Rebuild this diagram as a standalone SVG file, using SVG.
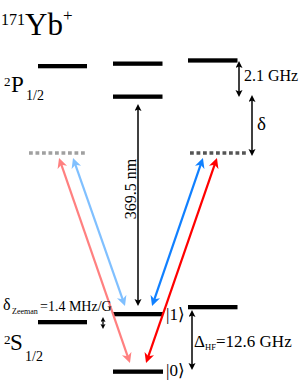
<svg xmlns="http://www.w3.org/2000/svg" width="299" height="380" viewBox="0 0 299 380">
<defs>
<style>
.lvl{fill:#000}
text{font-family:'Liberation Serif','Times New Roman','DejaVu Serif',serif;fill:#000}
.blk{stroke:#000;stroke-width:1.5;fill:none;marker-start:url(#mb);marker-end:url(#mb)}
.col{stroke-width:2.2;fill:none}
.dash{stroke-width:3.6;stroke-dasharray:3.8 2.7;fill:none}
</style>
<marker id="mb" markerUnits="userSpaceOnUse" markerWidth="8" markerHeight="8" refX="3" refY="3.5" orient="auto-start-reverse" viewBox="0 0 8 8">
<path d="M0,0 L7,3.5 L0,7 L1.5,3.5 z" fill="#000"/>
</marker>
<marker id="ms" markerUnits="userSpaceOnUse" markerWidth="6" markerHeight="6" refX="2" refY="2.5" orient="auto-start-reverse" viewBox="0 0 6 6">
<path d="M0,0 L5,2.5 L0,5 L1,2.5 z" fill="#000"/>
</marker>
<marker id="mpink" markerUnits="userSpaceOnUse" markerWidth="12" markerHeight="12" refX="4" refY="5" orient="auto-start-reverse" viewBox="0 0 12 12">
<path d="M0,0 L10,5 L0,10 L3,5 z" fill="#ff8080"/>
</marker>
<marker id="mlblue" markerUnits="userSpaceOnUse" markerWidth="12" markerHeight="12" refX="4" refY="5" orient="auto-start-reverse" viewBox="0 0 12 12">
<path d="M0,0 L10,5 L0,10 L3,5 z" fill="#80c0ff"/>
</marker>
<marker id="mblue" markerUnits="userSpaceOnUse" markerWidth="12" markerHeight="12" refX="4" refY="5" orient="auto-start-reverse" viewBox="0 0 12 12">
<path d="M0,0 L10,5 L0,10 L3,5 z" fill="#1080ff"/>
</marker>
<marker id="mred" markerUnits="userSpaceOnUse" markerWidth="12" markerHeight="12" refX="4" refY="5" orient="auto-start-reverse" viewBox="0 0 12 12">
<path d="M0,0 L10,5 L0,10 L3,5 z" fill="#ff0000"/>
</marker>
</defs>
<rect width="299" height="380" fill="#fff"/>

<g id="title">
<text x="1" y="35"><tspan font-size="16" dy="-10">171</tspan><tspan font-size="31" dy="10">Yb</tspan><tspan font-size="17" dy="-14">+</tspan></text>
</g>
<g id="P-label">
<text x="4" y="86" font-size="13">2</text>
<text x="11" y="92" font-size="23">P</text>
<text x="26" y="100" font-size="14">1/2</text>
</g>
<g id="S-label">
<text x="4" y="344" font-size="13">2</text>
<text x="10" y="350" font-size="23">S</text>
<text x="25" y="361" font-size="14">1/2</text>
</g>

<g id="level-P-left"><rect class="lvl" x="38" y="64" width="49" height="4.3"/></g>
<g id="level-P-mid-upper"><rect class="lvl" x="113" y="61.5" width="49.5" height="4.3"/></g>
<g id="level-P-mid-lower"><rect class="lvl" x="113" y="94.5" width="49.5" height="4.3"/></g>
<g id="level-P-right"><rect class="lvl" x="188" y="58.3" width="49.5" height="4.3"/></g>
<g id="level-S-left"><rect class="lvl" x="38" y="320" width="49" height="4.3"/></g>
<g id="level-1"><rect class="lvl" x="113" y="312" width="50" height="4.3"/></g>
<g id="level-0"><rect class="lvl" x="113" y="369.5" width="50" height="4.3"/></g>
<g id="level-S-right"><rect class="lvl" x="188" y="305" width="49.5" height="4.3"/></g>

<g id="virtual-left"><line class="dash" x1="29" y1="153" x2="85" y2="153" stroke="#a0a0a0"/></g>
<g id="virtual-right"><line class="dash" x1="190" y1="153" x2="246" y2="153" stroke="#555555"/></g>

<g id="connectors">
<line class="blk" x1="138" y1="108" x2="138" y2="302"/>
<line class="blk" x1="239" y1="65" x2="239" y2="93"/>
<line class="blk" x1="252" y1="99" x2="252" y2="152"/>
<line class="blk" x1="192" y1="314" x2="192" y2="366"/>
<line x1="103" y1="320" x2="103" y2="326" stroke="#000" stroke-width="1.3" marker-start="url(#ms)" marker-end="url(#ms)"/>
<line class="col" x1="128" y1="357.3" x2="61" y2="163.7" stroke="#ff8080" marker-start="url(#mpink)" marker-end="url(#mpink)"/>
<line class="col" x1="75" y1="163.7" x2="123" y2="300.3" stroke="#80c0ff" marker-start="url(#mlblue)" marker-end="url(#mlblue)"/>
<line class="col" x1="201" y1="163.7" x2="154" y2="300.3" stroke="#1080ff" marker-start="url(#mblue)" marker-end="url(#mblue)"/>
<line class="col" x1="215" y1="163.7" x2="148" y2="357.3" stroke="#ff0000" marker-start="url(#mred)" marker-end="url(#mred)"/>
</g>

<g id="labels">
<text x="244" y="81" font-size="16">2.1 GHz</text>
<text x="257" y="130" font-size="19">δ</text>
<text font-size="16" text-anchor="middle" transform="translate(136,189) rotate(-90)">369.5 nm</text>
<text x="3" y="310" font-size="16">δ</text>
<text x="12" y="314" font-size="8">Zeeman</text>
<text x="40" y="311" font-size="14">=1.4 MHz/G</text>
<text x="194" y="347" font-size="17">Δ</text>
<text x="205" y="350" font-size="8.5">HF</text>
<text x="216" y="347" font-size="17">=12.6 GHz</text>
<text x="166" y="320" font-size="17">|1⟩</text>
<text x="166" y="376" font-size="17">|0⟩</text>
</g>
</svg>
